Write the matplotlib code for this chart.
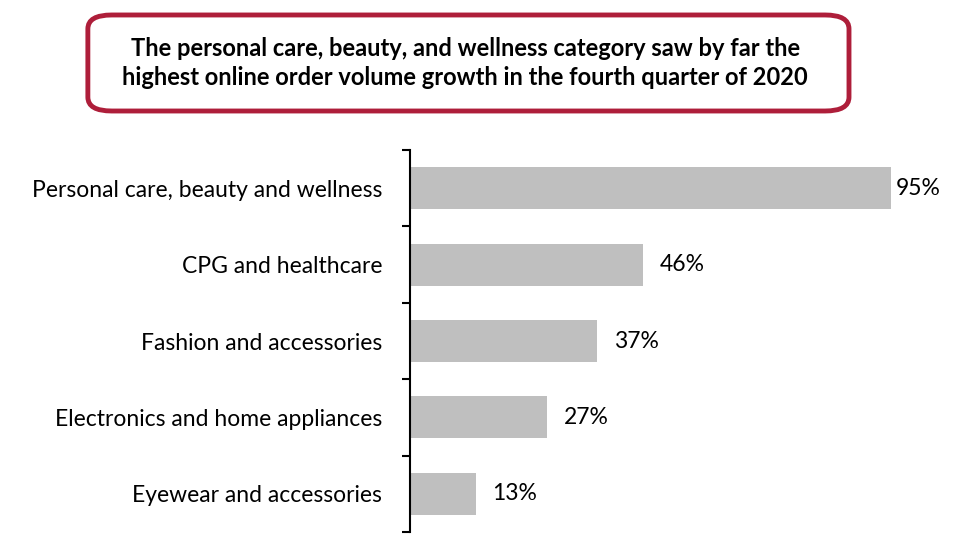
import matplotlib.pyplot as plt
from matplotlib.patches import FancyBboxPatch
import numpy as np

# Chart data
categories = [
    "Personal care, beauty and wellness",
    "CPG and healthcare",
    "Fashion and accessories",
    "Electronics and home appliances",
    "Eyewear and accessories",
]
growth = [95, 46, 37, 27, 13]
labels = ["95%", "46%", "37%", "27%", "13%"]
title_lines = [
    "The personal care, beauty, and wellness category saw by far the",
    "highest online order volume growth in the fourth quarter of 2020",
]

plt.rcParams["font.family"] = ["Lato", "DejaVu Sans"]

fig = plt.figure(figsize=(9.55, 5.55), dpi=100)
ax = fig.add_axes([0.4293, 0.0414, 0.557, 0.6883])

y = np.arange(len(categories))
ax.barh(y, growth, height=0.55, color="#BFBFBF")

for yi, v, lab in zip(y, growth, labels):
    # keep the largest label from running off the figure
    off = 3 if v == max(growth) else 12
    ax.annotate(lab, (v, yi), xytext=(off, 0), textcoords="offset points",
                ha="left", va="center", fontsize=16.5)

ax.set_xlim(0, 105)
ax.set_ylim(len(categories) - 0.5, -0.5)

# boundary ticks on the axis, category labels in between
ax.set_yticks(np.arange(-0.5, len(categories), 1.0))
ax.set_yticklabels([])
ax.tick_params(axis="y", which="major", direction="out", length=6, width=1.5)
ax.set_yticks(y, minor=True)
ax.set_yticklabels(categories, minor=True, fontsize=16.5)
ax.tick_params(axis="y", which="minor", length=0, pad=20)

ax.set_xticks([])
for s in ["top", "right", "bottom"]:
    ax.spines[s].set_visible(False)
ax.spines["left"].set_linewidth(1.5)

# title box
box = FancyBboxPatch((0.092, 0.8), 0.797, 0.173,
                     boxstyle="round,pad=0,rounding_size=0.025",
                     transform=fig.transFigure, facecolor="white",
                     edgecolor="#AE1E3A", linewidth=3.5)
fig.patches.append(box)
fig.text(0.487, 0.886, "\n".join(title_lines), ha="center", va="center",
         fontsize=17, fontweight="bold", linespacing=1.3)

fig.savefig("out.png", dpi=100)
